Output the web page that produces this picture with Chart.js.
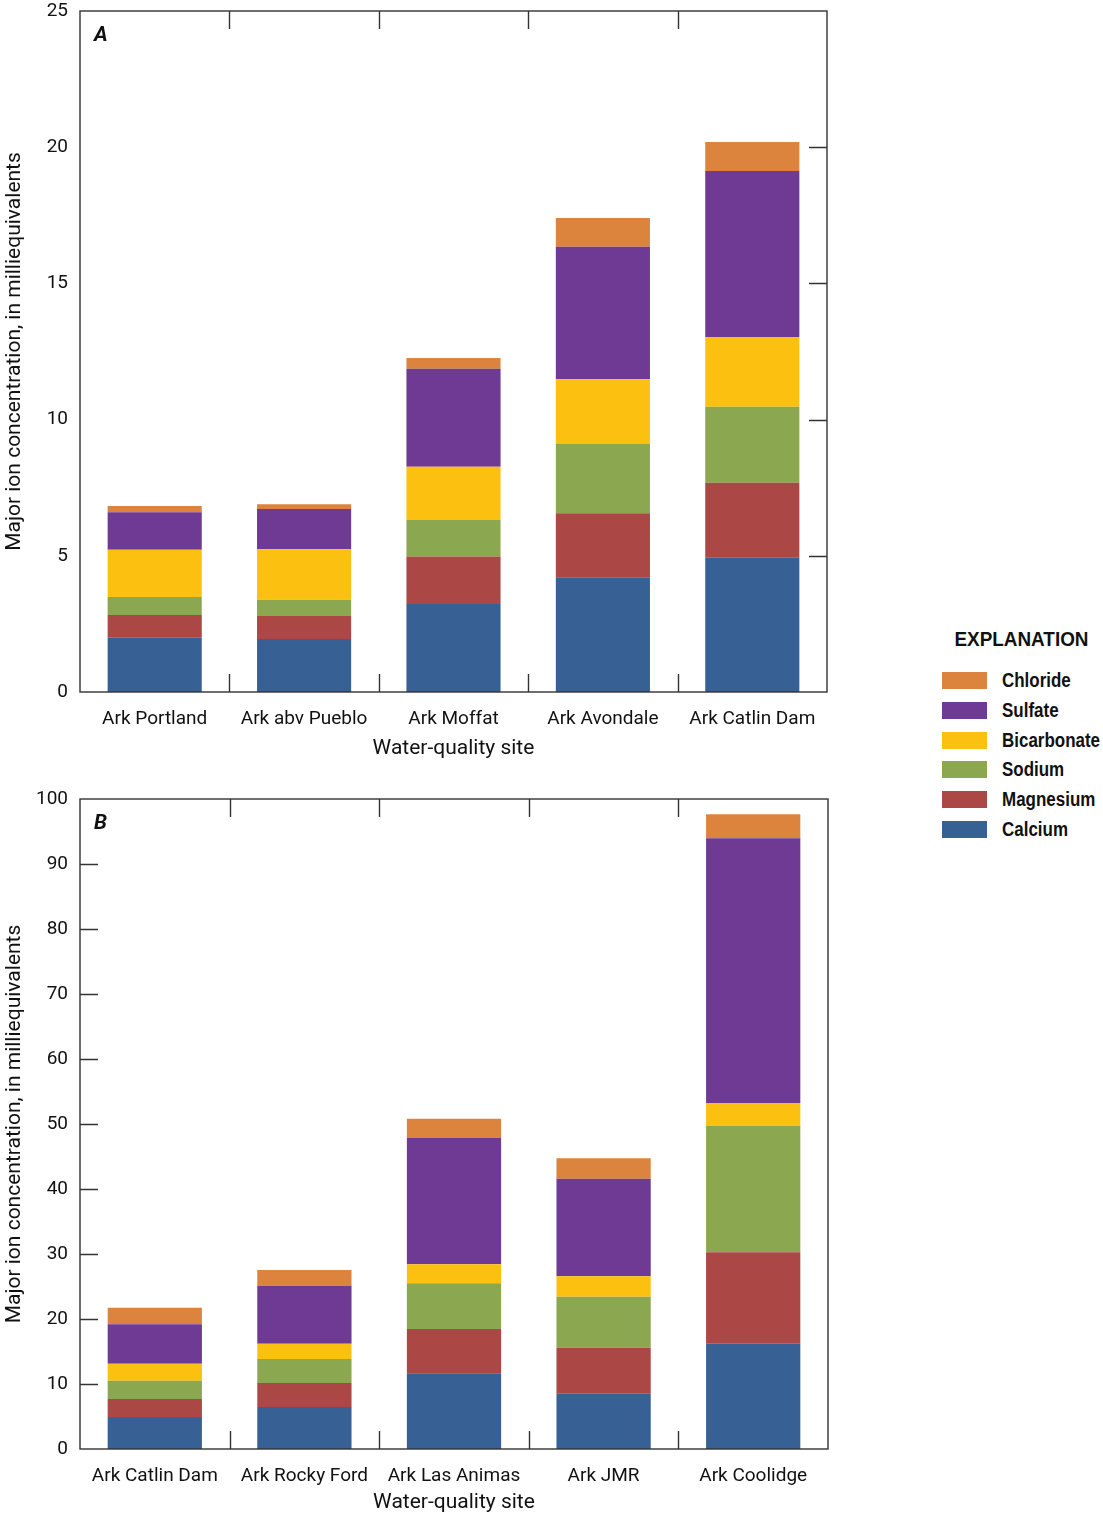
<!DOCTYPE html>
<html>
<head>
<meta charset="utf-8">
<script src="https://cdn.jsdelivr.net/npm/chart.js@4.4.1/dist/chart.umd.min.js"></script>
<style>
  body { margin: 0; background: #fff; }
  #page { position: relative; width: 1103px; height: 1518px; }
  .box { position: absolute; left: 0; }
  #legend { position: absolute; left: 930px; top: 622px; width: 173px;
            font-family: "Liberation Sans", Arial, sans-serif; color: #111; }
  #legend .ttl { font-weight: bold; font-size: 21px; width: 182px; height: 44px; line-height: 34px;
                 text-align: center; }
  #legend .ttl span { display: inline-block; transform: scaleX(0.9); }
  #legend .row { position: relative; height: 29.8px; }
  #legend .sw { position: absolute; left: 12px; top: 6px; width: 45px; height: 17px; }
  #legend .lb { position: absolute; left: 72px; top: 0; line-height: 29px; font-weight: bold; font-size: 19.5px;
                transform: scaleX(0.87); transform-origin: left center; white-space: nowrap; }
</style>
</head>
<body>
<div id="page">
  <div class="box" style="top:0"><canvas id="chartA" width="832" height="765"></canvas></div>
  <div class="box" style="top:780px"><canvas id="chartB" width="832" height="738"></canvas></div>
  <div id="legend"></div>
</div>
<script>
// ion order from the bottom of each bar up
const ionNames = ['Calcium', 'Magnesium', 'Sodium', 'Bicarbonate', 'Sulfate', 'Chloride'];
const ionColors = ['#376194', '#ab4744', '#8ba750', '#fcc010', '#6e3a93', '#dc843d'];

// panel A
const sitesA = ['Ark Portland', 'Ark abv Pueblo', 'Ark Moffat', 'Ark Avondale', 'Ark Catlin Dam'];
const calciumA     = [1.99, 1.95, 3.23, 4.21, 4.93];
const magnesiumA   = [0.84, 0.84, 1.74, 2.35, 2.75];
const sodiumA      = [0.66, 0.60, 1.34, 2.54, 2.79];
const bicarbonateA = [1.73, 1.85, 1.96, 2.38, 2.56];
const sulfateA     = [1.38, 1.48, 3.60, 4.87, 6.10];
const chlorideA    = [0.23, 0.17, 0.39, 1.05, 1.06];

// panel B
const sitesB = ['Ark Catlin Dam', 'Ark Rocky Ford', 'Ark Las Animas', 'Ark JMR', 'Ark Coolidge'];
const calciumB     = [4.92, 6.46, 11.64, 8.51, 16.20];
const magnesiumB   = [2.77, 3.69, 6.82, 7.08, 14.06];
const sodiumB      = [2.82, 3.70, 7.03, 7.85, 19.43];
const bicarbonateB = [2.62, 2.35, 2.92, 3.12, 3.54];
const sulfateB     = [6.05, 8.93, 19.49, 15.03, 40.72];
const chlorideB    = [2.56, 2.41, 2.92, 3.13, 3.69];

const yTicksA = [0, 5, 10, 15, 20, 25];
const yTicksB = [0, 10, 20, 30, 40, 50, 60, 70, 80, 90, 100];

const FONT = 'Roboto, "Liberation Sans", sans-serif';

// ticks drawn inside the frame, plus the full frame and the panel letter
const frameTicks = {
    id: 'frameTicks',
    afterDraw(chart, args, opts) {
        const ctx = chart.ctx;
        const a = chart.chartArea;
        const x = chart.scales.x, y = chart.scales.y;
        const len = 18;
        ctx.save();
        ctx.strokeStyle = '#333';
        ctx.lineWidth = 1.4;
        ctx.strokeRect(a.left, a.top, a.right - a.left, a.bottom - a.top);
        ctx.beginPath();
        y.ticks.forEach(t => {
            if (t.value <= y.min || t.value >= y.max) return;
            const py = Math.round(y.getPixelForValue(t.value)) + 0.5;
            if (opts.side === 'right') {
                ctx.moveTo(a.right - len, py); ctx.lineTo(a.right, py);
            } else {
                ctx.moveTo(a.left, py); ctx.lineTo(a.left + len, py);
            }
        });
        for (let i = 0; i < x.ticks.length - 1; i++) {
            const px = Math.round((x.getPixelForValue(i) + x.getPixelForValue(i + 1)) / 2) + 0.5;
            ctx.moveTo(px, a.top); ctx.lineTo(px, a.top + len);
            ctx.moveTo(px, a.bottom - len); ctx.lineTo(px, a.bottom);
        }
        ctx.stroke();
        ctx.fillStyle = '#111';
        ctx.font = 'italic bold 21px ' + FONT;
        ctx.textBaseline = 'middle';
        ctx.fillText(opts.label, a.left + 14, a.top + 25);
        ctx.restore();
    }
};

function makeDatasets(cols) {
    return ionNames.map((name, i) => ({
        label: name,
        data: cols[i],
        backgroundColor: ionColors[i],
        borderWidth: 0,
        barPercentage: 0.63,
        categoryPercentage: 1.0
    }));
}

function makeChart(id, sites, cols, yMax, yStep, pad, xHeight, xTitlePad, side, label) {
    return new Chart(document.getElementById(id), {
        type: 'bar',
        data: { labels: sites, datasets: makeDatasets(cols) },
        plugins: [frameTicks],
        options: {
            responsive: false,
            animation: false,
            devicePixelRatio: 1,
            layout: { padding: pad },
            plugins: {
                legend: { display: false },
                tooltip: { enabled: false },
                frameTicks: { side: side, label: label }
            },
            scales: {
                x: {
                    stacked: true,
                    grid: { display: false, drawTicks: false },
                    border: { display: false },
                    ticks: { color: '#111', padding: 16, font: { family: FONT, size: 19 }, maxRotation: 0 },
                    title: { display: true, text: 'Water-quality site', color: '#111',
                             font: { family: FONT, size: 21 }, padding: { top: 0, bottom: xTitlePad } },
                    afterFit: s => { s.height = xHeight; s.paddingLeft = 0; s.paddingRight = 0; }
                },
                y: {
                    stacked: true,
                    min: 0, max: yMax,
                    grid: { display: false, drawTicks: false },
                    border: { display: false },
                    ticks: { stepSize: yStep, color: '#111', padding: 12, font: { family: FONT, size: 19 } },
                    title: { display: true, text: 'Major ion concentration, in milliequivalents', color: '#111',
                             font: { family: FONT, size: 21 }, padding: { top: 2, bottom: 0 } },
                    afterFit: s => { s.width = 80; s.paddingTop = 0; s.paddingBottom = 0; }
                }
            }
        }
    });
}

makeChart('chartA', sitesA,
    [calciumA, magnesiumA, sodiumA, bicarbonateA, sulfateA, chlorideA],
    yTicksA[yTicksA.length - 1], yTicksA[1] - yTicksA[0],
    { top: 11, right: 5, bottom: 0, left: 0 }, 73, 4, 'right', 'A');

makeChart('chartB', sitesB,
    [calciumB, magnesiumB, sodiumB, bicarbonateB, sulfateB, chlorideB],
    yTicksB[yTicksB.length - 1], yTicksB[1] - yTicksB[0],
    { top: 19, right: 4, bottom: 0, left: 0 }, 69, 3, 'left', 'B');

// explanation, top entry first
const legend = document.getElementById('legend');
let html = '<div class="ttl"><span>EXPLANATION</span></div>';
for (let i = ionNames.length - 1; i >= 0; i--) {
    html += '<div class="row"><div class="sw" style="background:' + ionColors[i] + '"></div>' +
            '<div class="lb">' + ionNames[i] + '</div></div>';
}
legend.innerHTML = html;
</script>
</body>
</html>
